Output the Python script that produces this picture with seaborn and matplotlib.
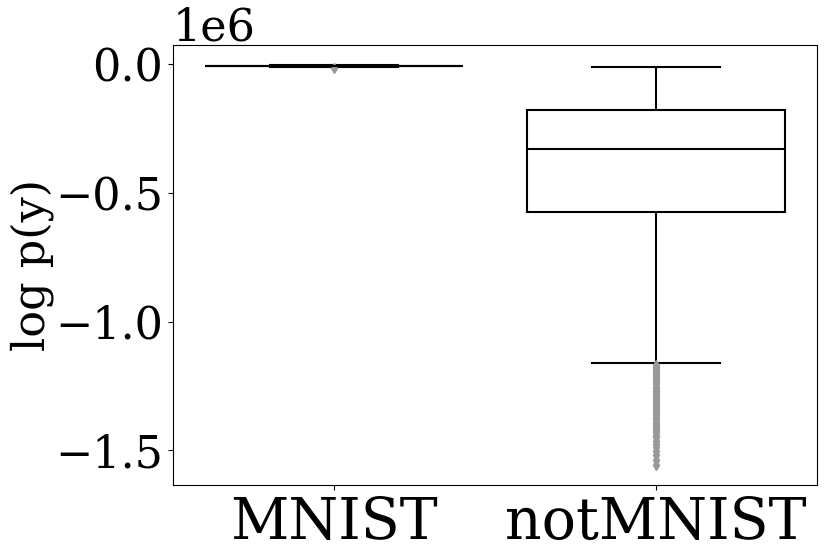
import numpy as np
import pandas as pd
import matplotlib
matplotlib.use("Agg")
import matplotlib.pyplot as plt
import seaborn as sns

plt.rcParams['font.family'] = ['DejaVu Serif']

categories = ["MNIST", "notMNIST"]

# Values (units of log p(y), scale 1e6 shown as offset)
# levels: lower whisker, Q1, median, Q3, upper whisker
mnist_levels = [-0.0085e6, -0.0065e6, -0.0055e6, -0.0045e6, -0.0025e6]
mnist_counts = [1, 50, 50, 50, 1]
mnist_outliers = [-0.016e6]

notmnist_levels = [-1.152e6, -0.572e6, -0.328e6, -0.178e6, -0.0086e6]
notmnist_counts = [1, 50, 50, 50, 1]
notmnist_outliers = [
    -1.162e6, -1.168e6, -1.175e6, -1.182e6, -1.190e6, -1.198e6, -1.205e6,
    -1.213e6, -1.220e6, -1.228e6, -1.236e6, -1.244e6, -1.252e6, -1.260e6,
    -1.268e6, -1.276e6, -1.284e6, -1.292e6, -1.300e6, -1.308e6, -1.316e6,
    -1.324e6, -1.332e6, -1.340e6, -1.348e6, -1.356e6, -1.364e6, -1.372e6,
    -1.380e6, -1.388e6, -1.396e6, -1.404e6, -1.412e6, -1.420e6, -1.430e6,
    -1.440e6, -1.450e6, -1.462e6, -1.474e6, -1.488e6, -1.503e6, -1.520e6,
    -1.538e6, -1.557e6,
]

mnist_vals = list(np.repeat(mnist_levels, mnist_counts)) + mnist_outliers
notmnist_vals = list(np.repeat(notmnist_levels, notmnist_counts)) + notmnist_outliers

df = pd.DataFrame({
    "dataset": [categories[0]] * len(mnist_vals) + [categories[1]] * len(notmnist_vals),
    "logp": mnist_vals + notmnist_vals,
})

fig = plt.figure(figsize=(8.30, 5.59), dpi=100)
ax = fig.add_axes([173 / 830, 1 - 485 / 559, (817 - 173) / 830, (485 - 45) / 559])

sns.boxplot(
    data=df, x="dataset", y="logp", order=categories, ax=ax,
    color="white", linecolor="black", linewidth=1.5, width=0.8,
    flierprops=dict(marker="d", markerfacecolor="#999999",
                    markeredgecolor="#999999", markersize=5),
)

ax.set_xlabel("")
ax.set_ylabel("log p(y)", fontsize=32, labelpad=1)
ax.tick_params(axis="y", labelsize=32)
ax.tick_params(axis="x", labelsize=41)
ax.yaxis.get_offset_text().set_fontsize(32)

fig.savefig("out.png", dpi=100)
